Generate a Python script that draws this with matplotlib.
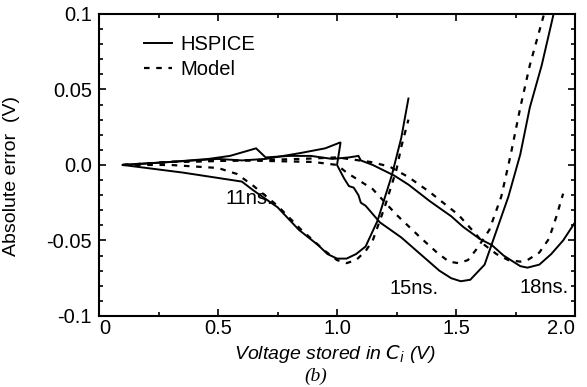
import matplotlib
matplotlib.use('Agg')
import matplotlib.pyplot as plt
from matplotlib.ticker import MultipleLocator

plt.rcParams['font.family'] = ['Liberation Sans', 'DejaVu Sans']
plt.rcParams['axes.unicode_minus'] = False

# 11 ns
hspice_11_v = [0.10, 0.35, 0.60, 0.65, 0.75, 0.84, 0.92, 0.96, 1.00, 1.04, 1.08, 1.12, 1.17, 1.23, 1.27, 1.30]
hspice_11_e = [0.000, -0.005, -0.011, -0.017, -0.028, -0.043, -0.053, -0.059, -0.062, -0.062, -0.059, -0.054, -0.037, -0.007, 0.018, 0.044]
model_11_v = [0.10, 0.30, 0.50, 0.58, 0.65, 0.75, 0.85, 0.95, 1.00, 1.04, 1.08, 1.12, 1.15, 1.20, 1.25, 1.27, 1.30]
model_11_e = [0.000, 0.000, -0.002, -0.006, -0.014, -0.027, -0.043, -0.057, -0.063, -0.065, -0.063, -0.057, -0.050, -0.028, -0.003, 0.012, 0.030]

# 15 ns
hspice_15_v = [0.10, 0.30, 0.50, 0.60, 0.70, 0.85, 0.95, 1.015, 1.00, 1.03, 1.05, 1.07, 1.09, 1.10, 1.12, 1.18,
               1.27, 1.35, 1.43, 1.48, 1.52, 1.56, 1.62, 1.66, 1.72, 1.77, 1.81, 1.86, 1.91]
hspice_15_e = [0.000, 0.002, 0.004, 0.003, 0.004, 0.008, 0.011, 0.015, 0.000, -0.009, -0.014, -0.015, -0.020, -0.025, -0.027, -0.038,
               -0.048, -0.059, -0.070, -0.075, -0.077, -0.076, -0.066, -0.048, -0.021, 0.007, 0.038, 0.066, 0.100]
model_15_v = [0.10, 0.30, 0.60, 0.90, 1.00, 1.04, 1.15, 1.25, 1.35, 1.42, 1.47, 1.51, 1.55, 1.59, 1.64, 1.69, 1.73, 1.77, 1.81, 1.87]
model_15_e = [0.000, 0.002, 0.003, 0.002, 0.000, -0.005, -0.016, -0.033, -0.048, -0.058, -0.064, -0.065, -0.063, -0.055, -0.043, -0.021, 0.007, 0.038, 0.066, 0.100]

# 18 ns
hspice_18_v = [0.10, 0.30, 0.46, 0.55, 0.66, 0.70, 0.80, 0.89, 0.98, 1.05, 1.09, 1.10, 1.15, 1.24, 1.30, 1.39,
               1.48, 1.53, 1.60, 1.65, 1.70, 1.77, 1.80, 1.85, 1.90, 1.95, 2.00]
hspice_18_e = [0.000, 0.002, 0.004, 0.006, 0.011, 0.005, 0.006, 0.006, 0.004, 0.005, 0.006, 0.003, 0.000, -0.007, -0.013, -0.024,
               -0.034, -0.041, -0.049, -0.053, -0.060, -0.067, -0.068, -0.066, -0.059, -0.050, -0.038]
model_18_v = [0.10, 0.30, 0.60, 0.85, 1.00, 1.14, 1.22, 1.30, 1.39, 1.51, 1.55, 1.59, 1.62, 1.67, 1.72, 1.77, 1.80, 1.85, 1.89, 1.92, 1.95]
model_18_e = [0.000, 0.002, 0.003, 0.004, 0.005, 0.002, -0.001, -0.008, -0.018, -0.033, -0.040, -0.047, -0.053, -0.059, -0.063, -0.064, -0.063, -0.058, -0.049, -0.035, -0.019]

labels = ['11ns.', '15ns.', '18ns.']
label_pos = [(0.53, -0.022), (1.22, -0.082), (1.765, -0.081)]

fig = plt.figure(figsize=(5.87, 3.87), dpi=100)
ax = fig.add_axes([0.1687, 0.1835, 0.8109, 0.7805])

solid = dict(color='black', lw=1.4, solid_joinstyle='miter')
dash = dict(color='black', lw=1.6, linestyle=(0, (2.5, 3.0)))

ax.plot(hspice_11_v, hspice_11_e, label='HSPICE', **solid)
ax.plot(model_11_v, model_11_e, label='Model', **dash)
ax.plot(hspice_15_v, hspice_15_e, **solid)
ax.plot(model_15_v, model_15_e, **dash)
ax.plot(hspice_18_v, hspice_18_e, **solid)
ax.plot(model_18_v, model_18_e, **dash)

for txt, (x, y) in zip(labels, label_pos):
    ax.text(x, y, txt, fontsize=14.5, ha='left', va='center')

ax.set_xlim(0, 2.0)
ax.set_ylim(-0.1, 0.1)
ax.set_xticks([0, 0.5, 1.0, 1.5, 2.0])
ax.set_xticklabels(['0', '0.5', '1.0', '1.5', '2.0'])
ax.set_yticks([-0.1, -0.05, 0.0, 0.05, 0.1])
ax.set_yticklabels(['-0.1', '-0.05', '0.0', '0.05', '0.1'])
ax.xaxis.set_minor_locator(MultipleLocator(0.25))
ax.yaxis.set_minor_locator(MultipleLocator(0.01))
ax.tick_params(which='both', direction='in', top=True, right=True, labelsize=14.5, width=1.2)
ax.tick_params(which='major', length=5)
ax.tick_params(axis='x', which='major', pad=2.5)
ax.tick_params(axis='y', which='major', pad=5)
ax.tick_params(which='minor', length=3)
ax.get_xticklabels()[0].set_ha('left')
ax.get_xticklabels()[-1].set_ha('right')
ax.get_xticklabels()[-1].set_x(2.03)
for s in ax.spines.values():
    s.set_linewidth(1.5)

ax.set_ylabel('Absolute error  (V)', fontsize=14)
ax.yaxis.set_label_coords(-0.166, 0.465)
ax.set_xlabel('Voltage stored in $C_i$ (V)', fontsize=14, style='italic')
ax.xaxis.set_label_coords(0.496, -0.088)
fig.text(0.537, 0.028, '(b)', fontsize=14, style='italic', family='Liberation Serif', ha='center', va='center')

leg = ax.legend(loc='upper left', bbox_to_anchor=(0.095, 0.93), frameon=False, fontsize=14.5,
                handlelength=1.4, handletextpad=0.4, labelspacing=0.3, borderpad=0, borderaxespad=0)

fig.savefig('out.png', dpi=100)
